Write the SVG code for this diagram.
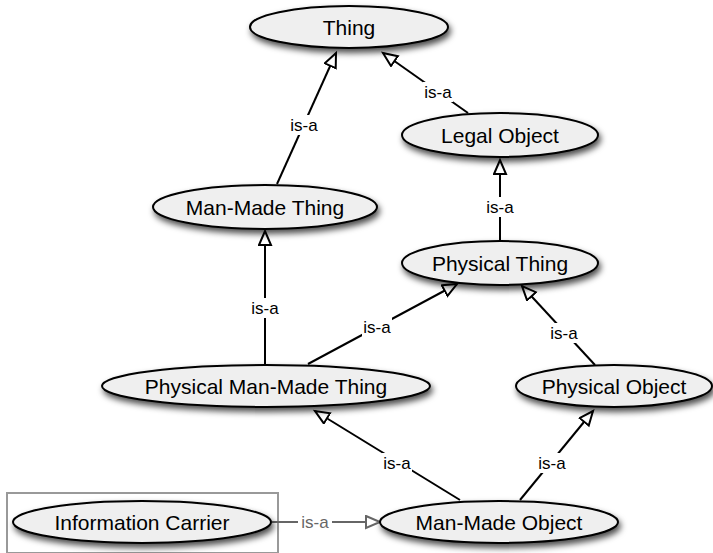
<svg xmlns="http://www.w3.org/2000/svg" width="713" height="553" viewBox="0 0 713 553">
<style>
.node ellipse{fill:#efefef;stroke:#000;stroke-width:2;filter:url(#sh)}
.node text{font-family:"Liberation Sans",Arial,sans-serif;font-size:21px;fill:#000;text-anchor:middle}
.edge{stroke:#000;stroke-width:2;fill:none;marker-end:url(#tri)}
.edge.gray{stroke:#666;marker-end:url(#trig)}
.lbl{font-family:"Liberation Sans",Arial,sans-serif;font-size:17px;fill:#000;text-anchor:middle}
.lbl.gray{fill:#666}
.lb{fill:#fff}
</style>
<defs>
<filter id="sh" x="-20%" y="-40%" width="140%" height="190%">
<feDropShadow dx="2" dy="4" stdDeviation="3" flood-color="#000" flood-opacity="0.7"/>
</filter>
<marker id="tri" markerUnits="userSpaceOnUse" markerWidth="18" markerHeight="16" refX="15" refY="7" orient="auto">
<path d="M1,1 L15,7 L1,13 Z" fill="#fff" stroke="#000" stroke-width="2"/>
</marker>
<marker id="trig" markerUnits="userSpaceOnUse" markerWidth="18" markerHeight="16" refX="15" refY="7" orient="auto">
<path d="M1,1 L15,7 L1,13 Z" fill="#fff" stroke="#666" stroke-width="2"/>
</marker>
</defs>
<rect x="7" y="493" width="271" height="60" fill="none" stroke="#999" stroke-width="2"/>
<g id="connectors">
<line class="edge" x1="277" y1="184" x2="336" y2="53"/>
<line class="edge" x1="468" y1="113" x2="383" y2="53"/>
<line class="edge" x1="500" y1="241" x2="500" y2="160"/>
<line class="edge" x1="265" y1="365" x2="265" y2="231"/>
<line class="edge" x1="308" y1="364" x2="457" y2="284"/>
<line class="edge" x1="595" y1="365" x2="522" y2="286"/>
<line class="edge" x1="460" y1="500" x2="315" y2="411"/>
<line class="edge" x1="520" y1="500" x2="593" y2="411"/>
<line class="edge gray" x1="272" y1="522" x2="380" y2="522"/>
<rect class="lb" x="289" y="115" width="30" height="20"/>
<text class="lbl" x="304" y="131">is-a</text>
<rect class="lb" x="423" y="82" width="30" height="20"/>
<text class="lbl" x="438" y="98">is-a</text>
<rect class="lb" x="485" y="197" width="30" height="20"/>
<text class="lbl" x="500" y="213">is-a</text>
<rect class="lb" x="250" y="298" width="30" height="20"/>
<text class="lbl" x="265" y="314">is-a</text>
<rect class="lb" x="362" y="317" width="30" height="20"/>
<text class="lbl" x="377" y="333">is-a</text>
<rect class="lb" x="549" y="323" width="30" height="20"/>
<text class="lbl" x="564" y="339">is-a</text>
<rect class="lb" x="382" y="453" width="30" height="20"/>
<text class="lbl" x="397" y="469">is-a</text>
<rect class="lb" x="537" y="453" width="30" height="20"/>
<text class="lbl" x="552" y="469">is-a</text>
<rect class="lb" x="298" y="512" width="34" height="20"/>
<text class="lbl gray" x="315" y="528">is-a</text>
</g>
<g id="thing" class="node"><ellipse cx="349" cy="27" rx="99" ry="21"/><text x="349" y="35">Thing</text></g>
<g id="legal-object" class="node"><ellipse cx="500" cy="135" rx="98" ry="22"/><text x="500" y="143">Legal Object</text></g>
<g id="man-made-thing" class="node"><ellipse cx="265" cy="207" rx="112" ry="22"/><text x="265" y="215">Man-Made Thing</text></g>
<g id="physical-thing" class="node"><ellipse cx="500" cy="263" rx="98" ry="22"/><text x="500" y="271">Physical Thing</text></g>
<g id="physical-man-made-thing" class="node"><ellipse cx="266" cy="386" rx="164" ry="21"/><text x="266" y="394">Physical Man-Made Thing</text></g>
<g id="physical-object" class="node"><ellipse cx="614" cy="386" rx="98" ry="21"/><text x="614" y="394">Physical Object</text></g>
<g id="man-made-object" class="node"><ellipse cx="499" cy="522" rx="119" ry="21"/><text x="499" y="530">Man-Made Object</text></g>
<g id="information-carrier" class="node"><ellipse cx="142" cy="522" rx="129" ry="21"/><text x="142" y="530">Information Carrier</text></g>
</svg>
